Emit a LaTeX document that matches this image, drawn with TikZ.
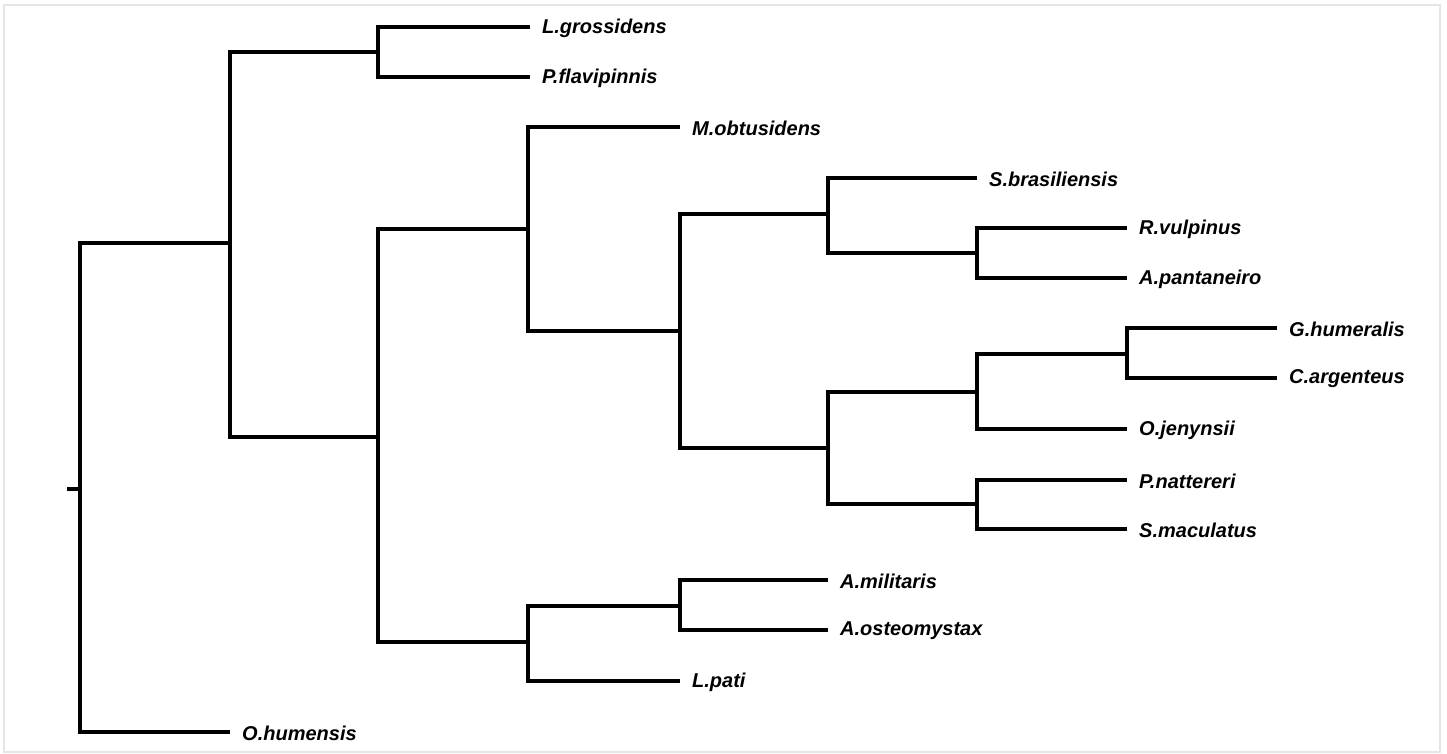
\documentclass[tikz,border=0pt]{standalone}
\usepackage{fontspec}
\setmainfont{Liberation Sans}
\begin{document}
\begin{tikzpicture}[x=1pt, y=-1pt]
\tikzset{ branch/.style={line width=3.6pt, black},
  taxon/.style={anchor=west, inner xsep=12pt, inner ysep=0pt, yshift=-1pt,
    font=\fontsize{20}{23}\selectfont\bfseries\itshape} }
% frame
\draw [gray!20, line width=1.2pt] (4,5) rectangle (1440,752);
\useasboundingbox (0,0) rectangle (1447,754);

% inner nodes
\coordinate (R)   at (80,489);
\coordinate (N1)  at (230,243);
\coordinate (N2)  at (378,52);
\coordinate (N3)  at (378,437);
\coordinate (N4)  at (528,229);
\coordinate (N5)  at (680,331);
\coordinate (N6)  at (828,214);
\coordinate (N7)  at (977,253);
\coordinate (N8)  at (828,448);
\coordinate (N9)  at (977,392);
\coordinate (N10) at (1127,354);
\coordinate (N11) at (977,504);
\coordinate (N12) at (528,642);
\coordinate (N13) at (680,606);
\coordinate (T)   at (67,489);

% leaves
\node [taxon] (LG) at (530,27)   {L.grossidens};
\node [taxon] (PF) at (530,77)   {P.flavipinnis};
\node [taxon] (MO) at (680,127)  {M.obtusidens};
\node [taxon] (SB) at (977,178)  {S.brasiliensis};
\node [taxon] (RV) at (1127,228) {R.vulpinus};
\node [taxon] (AP) at (1127,278) {A.pantaneiro};
\node [taxon] (GH) at (1277,328) {G.humeralis};
\node [taxon] (CA) at (1277,378) {C.argenteus};
\node [taxon] (OJ) at (1127,429) {O.jenynsii};
\node [taxon] (PN) at (1127,480) {P.nattereri};
\node [taxon] (SM) at (1127,529) {S.maculatus};
\node [taxon] (AM) at (828,580)  {A.militaris};
\node [taxon] (AO) at (828,630)  {A.osteomystax};
\node [taxon] (LP) at (680,681)  {L.pati};
\node [taxon] (OH) at (230,732)  {O.humensis};

\draw [branch] (T) -- (R);
\draw [branch] (R) |- (N1);
\draw [branch] (R) |- ([yshift=1pt]OH.west);
\draw [branch] (N1) |- (N2);
\draw [branch] (N1) |- (N3);
\draw [branch] (N2) |- ([yshift=1pt]LG.west);
\draw [branch] (N2) |- ([yshift=1pt]PF.west);
\draw [branch] (N3) |- (N4);
\draw [branch] (N3) |- (N12);
\draw [branch] (N4) |- ([yshift=1pt]MO.west);
\draw [branch] (N4) |- (N5);
\draw [branch] (N5) |- (N6);
\draw [branch] (N5) |- (N8);
\draw [branch] (N6) |- ([yshift=1pt]SB.west);
\draw [branch] (N6) |- (N7);
\draw [branch] (N7) |- ([yshift=1pt]RV.west);
\draw [branch] (N7) |- ([yshift=1pt]AP.west);
\draw [branch] (N8) |- (N9);
\draw [branch] (N8) |- (N11);
\draw [branch] (N9) |- (N10);
\draw [branch] (N9) |- ([yshift=1pt]OJ.west);
\draw [branch] (N10) |- ([yshift=1pt]GH.west);
\draw [branch] (N10) |- ([yshift=1pt]CA.west);
\draw [branch] (N11) |- ([yshift=1pt]PN.west);
\draw [branch] (N11) |- ([yshift=1pt]SM.west);
\draw [branch] (N12) |- (N13);
\draw [branch] (N12) |- ([yshift=1pt]LP.west);
\draw [branch] (N13) |- ([yshift=1pt]AM.west);
\draw [branch] (N13) |- ([yshift=1pt]AO.west);

\end{tikzpicture}
\end{document}
